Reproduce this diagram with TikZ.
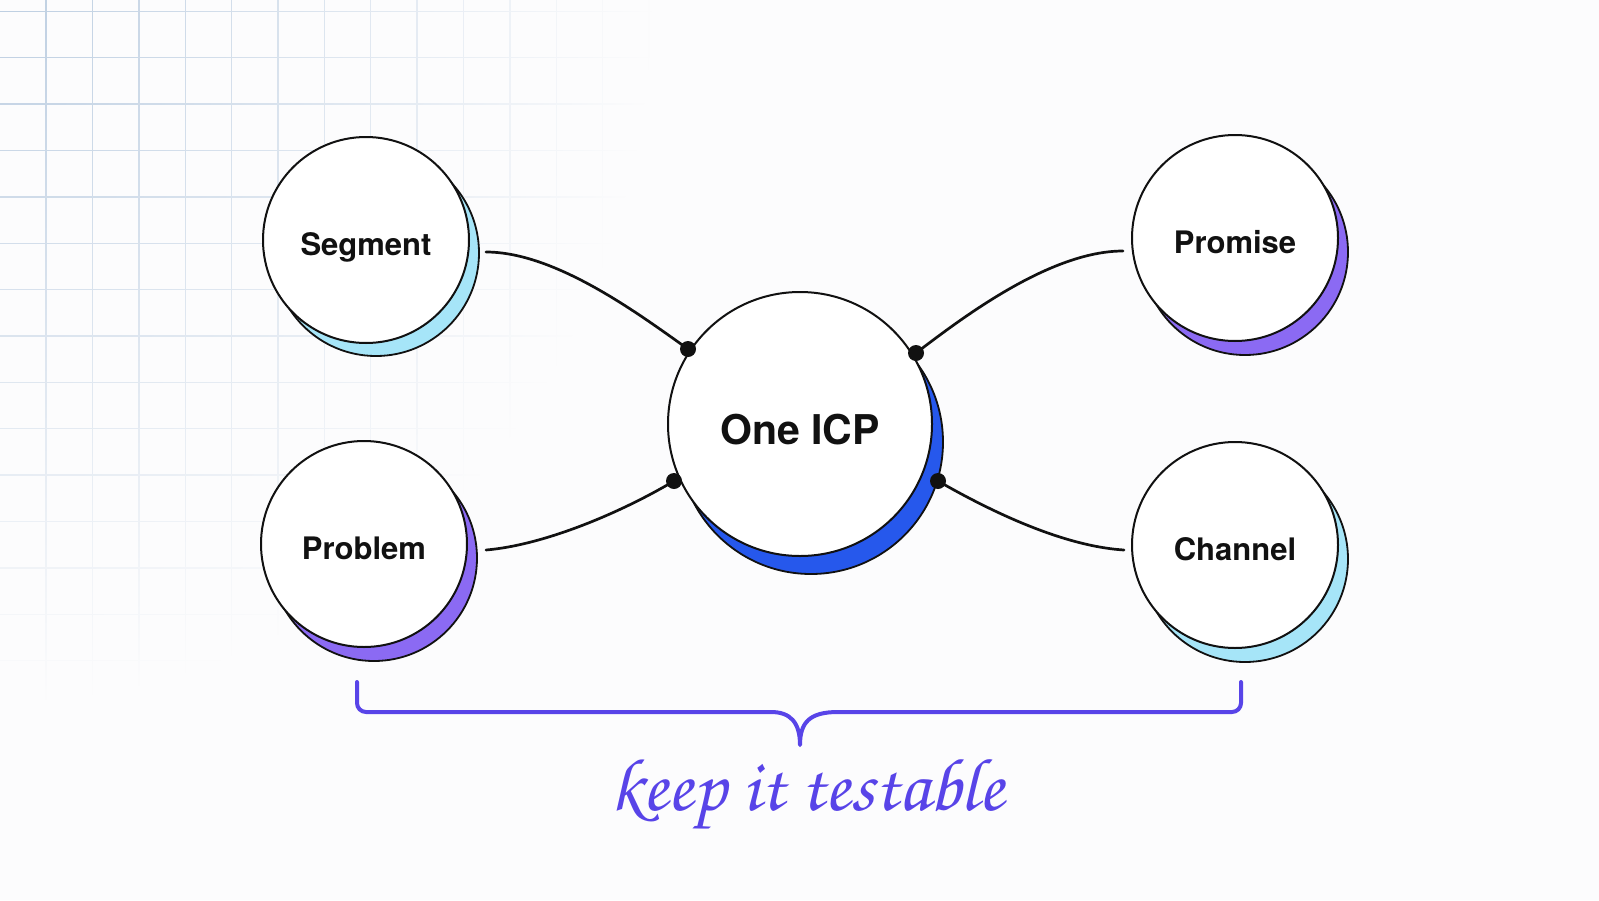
\documentclass[tikz,border=0pt]{standalone}
\usepackage[T1,TU]{fontenc}
\usepackage{fontspec}
\setmainfont{TeX Gyre Heros}
\usetikzlibrary{fadings}
\definecolor{bgc}{RGB}{252,252,253}
\definecolor{gridc}{RGB}{190,207,226}
\definecolor{inkc}{RGB}{17,17,17}
\definecolor{cyans}{RGB}{166,229,248}
\definecolor{purps}{RGB}{139,106,243}
\definecolor{blues}{RGB}{38,88,236}
\definecolor{bracec}{RGB}{88,68,232}
\tikzfading[name=gridfade, inner color=transparent!0, outer color=transparent!100]
\newcommand{\handfont}{\fontencoding{T1}\fontfamily{pzc}\fontseries{mb}\fontshape{it}\fontsize{75}{80}\selectfont}
\begin{document}
\begin{tikzpicture}[x=1pt,y=-1pt,
  shadowc/.style={circle, draw=inkc, line width=1.8pt, minimum size=206pt, inner sep=0pt},
  bubble/.style={circle, draw=inkc, fill=white, line width=2pt, minimum size=206pt, inner sep=0pt,
    text=inkc, font=\bfseries\fontsize{31}{31}\selectfont, text height=30pt, text depth=0pt},
  dotn/.style={circle, fill=inkc, minimum size=16pt, inner sep=0pt},
  conn/.style={draw=inkc, line width=2.7pt, line cap=round},
  gridline/.style={draw=gridc, line width=1.4pt}]
\fill[bgc] (0,0) rectangle (1599,900);
\useasboundingbox (0,0) rectangle (1599,900);
% fading grid
\begin{scope}
\clip (0,0) rectangle (720,820);
\path[gridline, path fading=gridfade, fit fading=false, fading transform={xscale=26,yscale=28}]
  foreach \k in {1,...,15} {(46.4*\k,0) -- (46.4*\k,820)}
  foreach \j in {0,...,17} {(0,11+46.4*\j) -- (720,11+46.4*\j)};
\end{scope}
% shadows
\node[shadowc, fill=cyans] (segS) at (376,253) {};
\node[shadowc, fill=purps] (proS) at (374,558) {};
\node[shadowc, fill=purps] (promS) at (1245,252) {};
\node[shadowc, fill=cyans] (chaS) at (1245,559) {};
\node[shadowc, fill=blues, minimum size=264pt] (icpS) at (811,442) {};
% bubbles
\node[bubble] (seg) at (366,240) {Segment};
\node[bubble] (pro) at (364,544) {Problem};
\node[bubble] (prom) at (1235,238) {Promise};
\node[bubble] (cha) at (1235,545) {Channel};
\node[bubble, minimum size=264pt, font=\bfseries\fontsize{41}{41}\selectfont, text height=40pt, text depth=0pt] (icp) at (800,424) {One ICP};
% dots on the central circle
\node[dotn] (dseg) at (688,349) {};
\node[dotn] (dpro) at (674,481) {};
\node[dotn] (dprom) at (916,353) {};
\node[dotn] (dcha) at (938,481) {};
% free ends near the outer circles
\coordinate (segout) at (486,252);
\coordinate (proout) at (486,550);
\coordinate (promout) at (1123,251);
\coordinate (chaout) at (1124,550);
% connectors
\draw[conn] (segout) .. controls (556,252) and (640,315) .. (dseg.center);
\draw[conn] (proout) .. controls (545,545) and (622,512) .. (dpro.center);
\draw[conn] (promout) .. controls (1050,251) and (962,318) .. (dprom.center);
\draw[conn] (chaout) .. controls (1060,546) and (985,508) .. (dcha.center);
% brace
\draw[draw=bracec, line width=4pt, line cap=round, line join=round, rounded corners=9pt]
  (357,682) -- (357,712) -- (762,712) [sharp corners] .. controls (790,712) and (800,722) .. (800,745)
  .. controls (800,722) and (810,712) .. (838,712) [rounded corners=9pt] -- (1241,712) -- (1241,682);
% note
\node[text=bracec, anchor=base, inner sep=0pt, font=\handfont] (note) at (807,810) {keep it testable};
\end{tikzpicture}
\end{document}
